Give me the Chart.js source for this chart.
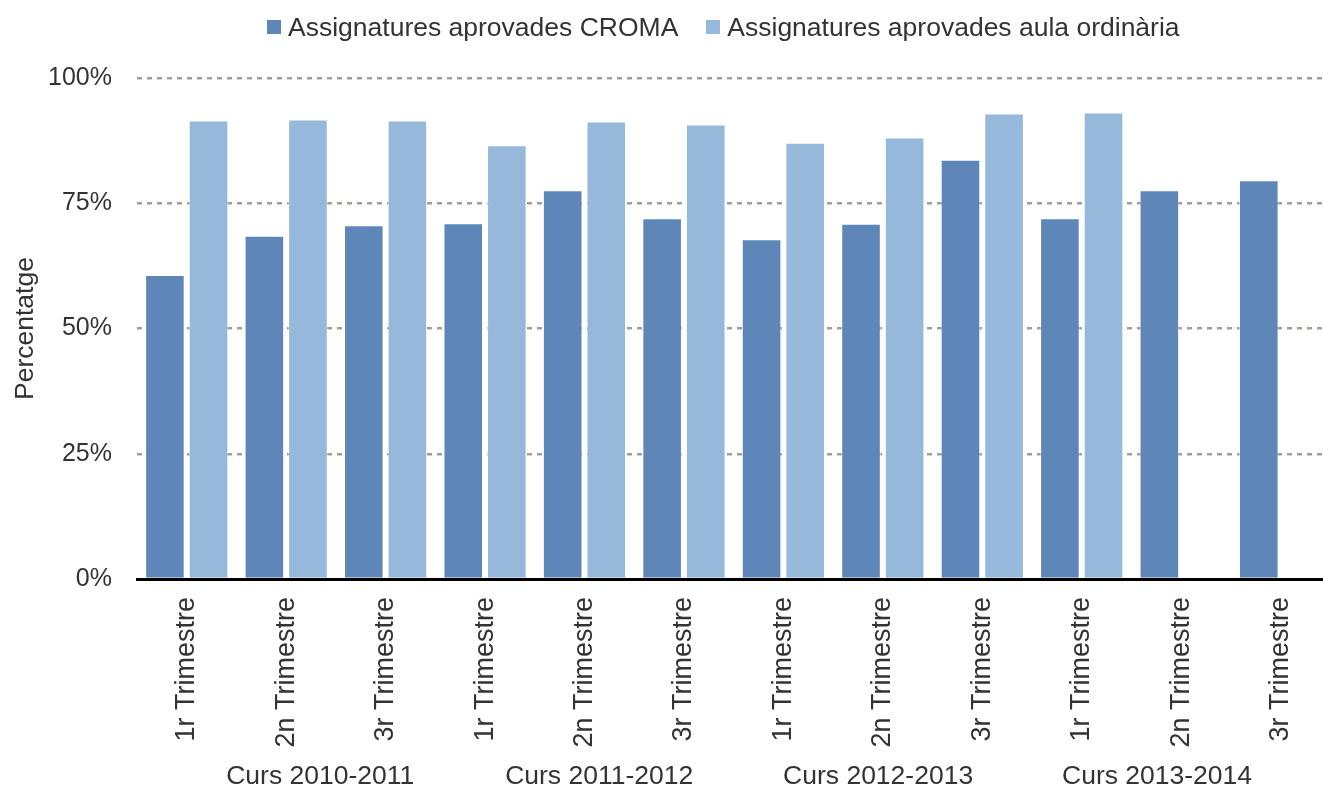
<!DOCTYPE html>
<html>
<head>
<meta charset="utf-8">
<script src="https://cdn.jsdelivr.net/npm/chart.js@4.4.1/dist/chart.umd.min.js"></script>
<style>
  html, body { margin: 0; padding: 0; background: #ffffff; overflow: hidden; width: 1323px; height: 787px; }
  #wrap { position: absolute; left: 0; top: 0; width: 1331px; height: 787px; }
  #legend { position: absolute; top: 12px; left: 267px; height: 30px; display: flex; align-items: center;
            font-family: "Liberation Sans", Arial, sans-serif; font-size: 26.5px; color: #333333; white-space: nowrap; }
  #legend .item { display: flex; align-items: center; }
  #legend .sw { width: 14px; height: 14px; margin-right: 7px; }
  #legend .item + .item { margin-left: 28px; }
</style>
</head>
<body>
<div id="wrap"><canvas id="c"></canvas></div>
<div id="legend"></div>
<script>
// ---- data ----
const categories = [
  '1r Trimestre', '2n Trimestre', '3r Trimestre',
  '1r Trimestre', '2n Trimestre', '3r Trimestre',
  '1r Trimestre', '2n Trimestre', '3r Trimestre',
  '1r Trimestre', '2n Trimestre', '3r Trimestre'
];
const groups = ['Curs 2010-2011', 'Curs 2011-2012', 'Curs 2012-2013', 'Curs 2013-2014'];
const seriesNames = ['Assignatures aprovades CROMA', 'Assignatures aprovades aula ordinària'];
const croma = [60.7, 68.5, 70.6, 71.0, 77.6, 72.0, 67.8, 70.9, 83.7, 72.0, 77.6, 79.6];
const ordinaria = [91.5, 91.7, 91.5, 86.6, 91.3, 90.7, 87.1, 88.1, 92.9, 93.1, null, null];
const yTicks = [0, 25, 50, 75, 100];

const colors = ['#5F86B8', '#96B8DA'];
const FONT = '"Liberation Sans", Arial, sans-serif';
const TEXT = '#333333';

// HTML legend (real text)
const legendEl = document.getElementById('legend');
seriesNames.forEach((n, i) => {
  const it = document.createElement('div'); it.className = 'item';
  const sw = document.createElement('span'); sw.className = 'sw'; sw.style.background = colors[i];
  const tx = document.createElement('span'); tx.textContent = n;
  it.appendChild(sw); it.appendChild(tx); legendEl.appendChild(it);
});

const groupLabels = {
  id: 'groupLabels',
  afterDraw(chart, args, opts) {
    const x = chart.scales.x;
    const ctx = chart.ctx;
    const per = categories.length / groups.length;
    const mid = (categories.length - 1) / 2;
    ctx.save();
    ctx.font = '26.5px ' + FONT;
    ctx.fillStyle = TEXT;
    ctx.textAlign = 'center';
    ctx.textBaseline = 'middle';
    groups.forEach((g, i) => {
      const center = i * per + (per - 1) / 2;
      const pos = opts.mid + (center - mid) * opts.squeeze;
      ctx.fillText(g, x.getPixelForValue(pos), opts.y);
    });
    ctx.restore();
  }
};

new Chart(document.getElementById('c'), {
  type: 'bar',
  data: {
    labels: categories,
    datasets: [
      { label: seriesNames[0], data: croma, backgroundColor: colors[0], borderColor: 'rgba(255,255,255,0.5)', borderWidth: 1,
        categoryPercentage: 0.877, barPercentage: 0.908 },
      { label: seriesNames[1], data: ordinaria, backgroundColor: colors[1], borderColor: 'rgba(255,255,255,0.5)', borderWidth: 1,
        categoryPercentage: 0.877, barPercentage: 0.908 }
    ]
  },
  options: {
    responsive: true,
    maintainAspectRatio: false,
    animation: false,
    layout: { padding: { top: 78, bottom: 28, left: 0, right: 0 } },
    plugins: {
      legend: { display: false },
      tooltip: { enabled: false },
      groupLabels: { y: 777, mid: 5.55, squeeze: 0.935 }
    },
    scales: {
      x: {
        grid: { display: false, drawTicks: false },
        border: { display: true, color: '#000000', width: 3 },
        ticks: {
          color: TEXT, font: { family: FONT, size: 27 },
          minRotation: 90, maxRotation: 90, padding: 18, autoSkip: false
        },
        afterFit(scale) { scale.height = 180; }
      },
      y: {
        min: 0, max: 100,
        afterBuildTicks(scale) { scale.ticks = yTicks.map(v => ({ value: v })); },
        grid: { color: '#A69D95', lineWidth: 2.5, drawTicks: false },
        border: { display: false, dash: [5, 5] },
        ticks: {
          color: TEXT, font: { family: FONT, size: 25 }, padding: 25,
          callback: v => v + '%'
        },
        title: {
          display: true, text: 'Percentatge', color: TEXT,
          font: { family: FONT, size: 26.5 }, padding: { top: 10, bottom: 4 }
        },
        afterFit(scale) { scale.width = 137; }
      }
    }
  },
  plugins: [groupLabels]
});
</script>
</body>
</html>
